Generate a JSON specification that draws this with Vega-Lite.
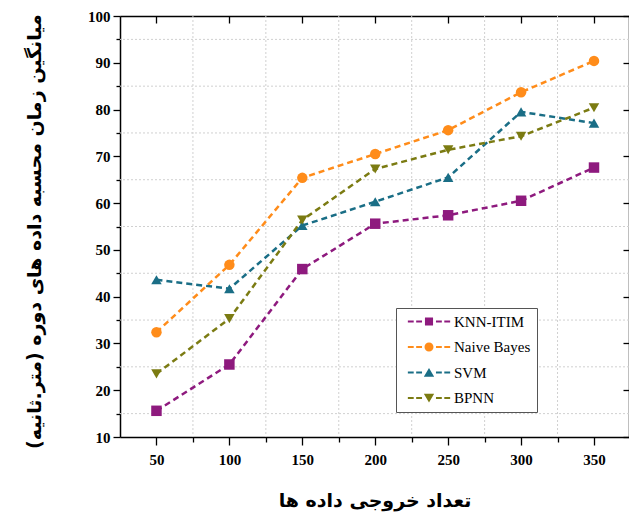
{
  "$schema": "https://vega.github.io/schema/vega-lite/v6.json",
  "width": 509,
  "height": 421,
  "autosize": "none",
  "padding": {"left": 120, "top": 16, "right": 0, "bottom": 82},
  "background": "white",
  "config": {"view": {"stroke": null}},
  "datasets": {
    "main": [
      {"x": 50, "y": 15.6, "series": "KNN-ITIM"},
      {"x": 100, "y": 25.5, "series": "KNN-ITIM"},
      {"x": 150, "y": 45.9, "series": "KNN-ITIM"},
      {"x": 200, "y": 55.6, "series": "KNN-ITIM"},
      {"x": 250, "y": 57.4, "series": "KNN-ITIM"},
      {"x": 300, "y": 60.5, "series": "KNN-ITIM"},
      {"x": 350, "y": 67.6, "series": "KNN-ITIM"},
      {"x": 50, "y": 32.4, "series": "Naive Bayes"},
      {"x": 100, "y": 46.8, "series": "Naive Bayes"},
      {"x": 150, "y": 65.4, "series": "Naive Bayes"},
      {"x": 200, "y": 70.5, "series": "Naive Bayes"},
      {"x": 250, "y": 75.6, "series": "Naive Bayes"},
      {"x": 300, "y": 83.7, "series": "Naive Bayes"},
      {"x": 350, "y": 90.4, "series": "Naive Bayes"},
      {"x": 50, "y": 43.6, "series": "SVM"},
      {"x": 100, "y": 41.7, "series": "SVM"},
      {"x": 150, "y": 55.2, "series": "SVM"},
      {"x": 200, "y": 60.3, "series": "SVM"},
      {"x": 250, "y": 65.5, "series": "SVM"},
      {"x": 300, "y": 79.5, "series": "SVM"},
      {"x": 350, "y": 77.1, "series": "SVM"},
      {"x": 50, "y": 23.5, "series": "BPNN"},
      {"x": 100, "y": 35.3, "series": "BPNN"},
      {"x": 150, "y": 56.4, "series": "BPNN"},
      {"x": 200, "y": 67.3, "series": "BPNN"},
      {"x": 250, "y": 71.4, "series": "BPNN"},
      {"x": 300, "y": 74.3, "series": "BPNN"},
      {"x": 350, "y": 80.4, "series": "BPNN"}
    ],
    "gridx": [{"gx": 75}, {"gx": 125}, {"gx": 175}, {"gx": 225}, {"gx": 275}, {"gx": 325}],
    "gridy": [{"gy": 15}, {"gy": 25}, {"gy": 35}, {"gy": 45}, {"gy": 55}, {"gy": 65}, {"gy": 75}, {"gy": 85}, {"gy": 95}]
  },
  "layer": [
    {
      "data": {"name": "gridx"},
      "mark": {"type": "rule", "color": "#d0d0d0", "strokeWidth": 1, "strokeDash": [2, 2]},
      "encoding": {
        "x": {"field": "gx", "type": "quantitative", "scale": {"domain": [25, 374], "nice": false, "zero": false}, "axis": null}
      }
    },
    {
      "data": {"name": "gridy"},
      "mark": {"type": "rule", "color": "#d0d0d0", "strokeWidth": 1, "strokeDash": [2, 2]},
      "encoding": {
        "y": {"field": "gy", "type": "quantitative", "scale": {"domain": [10, 100], "nice": false, "zero": false}, "axis": null}
      }
    },
    {
      "data": {"name": "main"},
      "mark": {"type": "line", "strokeWidth": 2.5, "strokeDash": [6, 4]},
      "encoding": {
        "x": {"field": "x", "type": "quantitative",
          "scale": {"domain": [25, 374], "nice": false, "zero": false},
          "axis": {
            "orient": "bottom",
            "values": [50, 75, 100, 125, 150, 175, 200, 225, 250, 275, 300, 325, 350],
            "labelExpr": "datum.value % 50 == 0 ? datum.label : ''",
            "labelFont": "Liberation Serif", "labelFontWeight": "bold", "labelFontSize": 15, "labelColor": "black",
            "labelPadding": 7,
            "tickColor": "black", "tickWidth": 1.3,
            "tickSize": {"condition": {"test": "datum.value % 50 == 0", "value": 8}, "value": 5},
            "domainColor": "black", "domainWidth": 1.5,
            "grid": false,
            "title": "تعداد خروجی داده ها",
            "titleFont": "DejaVu Sans", "titleFontWeight": "bold", "titleFontSize": 19, "titleColor": "black",
            "titleBaseline": "middle", "titleY": 63
          }
        },
        "y": {"field": "y", "type": "quantitative",
          "scale": {"domain": [10, 100], "nice": false, "zero": false},
          "axis": {
            "orient": "left",
            "values": [10, 15, 20, 25, 30, 35, 40, 45, 50, 55, 60, 65, 70, 75, 80, 85, 90, 95, 100],
            "labelExpr": "datum.value % 10 == 0 ? datum.label : ''",
            "labelFont": "Liberation Serif", "labelFontWeight": "bold", "labelFontSize": 15, "labelColor": "black",
            "labelPadding": 3,
            "tickColor": "black", "tickWidth": 1.3,
            "tickSize": {"condition": {"test": "datum.value % 10 == 0", "value": 7}, "value": 4},
            "domainColor": "black", "domainWidth": 1.5,
            "grid": false,
            "title": "میانگین زمان محسبه داده های دوره (متر.ثانیه)",
            "titleFont": "DejaVu Sans", "titleFontWeight": "bold", "titleFontSize": 19, "titleColor": "black",
            "titleAngle": -90, "titleAlign": "center", "titleBaseline": "middle",
            "titleX": -86, "titleY": 215
          }
        },
        "color": {"field": "series", "type": "nominal",
          "scale": {"domain": ["KNN-ITIM", "Naive Bayes", "SVM", "BPNN"], "range": ["#8E1A7E", "#FF8C1A", "#1A6E86", "#7B7B12"]},
          "legend": {
            "title": null, "orient": "none", "legendX": 276, "legendY": 292,
            "strokeColor": "#555555", "fillColor": "white", "padding": 6,
            "labelFont": "Liberation Serif", "labelFontSize": 15, "labelColor": "black",
            "symbolSize": 81, "symbolStrokeWidth": 0, "symbolOffset": 19.5, "labelOffset": 17.5,
            "rowPadding": 9.5, "symbolOpacity": 1,
            "encode": {"symbols": {"update": {
              "fill": {"signal": "scale('color', datum.value)"},
              "stroke": {"value": "transparent"},
              "strokeWidth": {"value": 0},
              "strokeDash": {"value": []},
              "opacity": {"value": 1},
              "shape": {"signal": "(datum.value == 'KNN-ITIM' ? 'M-0.9,-0.9h1.8v1.8h-1.8z' : datum.value == 'Naive Bayes' ? 'M-1,0a1,1 0 1,0 2,0a1,1 0 1,0 -2,0z' : datum.value == 'SVM' ? 'M0,-1L1.15,0.95L-1.15,0.95z' : 'M0,1L1.15,-0.95L-1.15,-0.95z') + 'M-4.7,-0.24h1.3v0.48h-1.3zM-2.85,-0.24h1.3v0.48h-1.3zM1.55,-0.24h1.3v0.48h-1.3zM3.4,-0.24h1.3v0.48h-1.3z'"}
            }}}
          }
        },
        "detail": {"field": "series"}
      }
    },
    {
      "data": {"name": "main"},
      "transform": [{"filter": "datum.series == 'KNN-ITIM'"}],
      "mark": {"type": "point", "filled": true, "opacity": 1, "size": 110, "shape": "square", "color": "#8E1A7E"},
      "encoding": {
        "x": {"field": "x", "type": "quantitative",
          "scale": {"domain": [25, 374], "nice": false, "zero": false},
          "axis": {"orient": "top", "values": [50, 100, 150, 200, 250, 300, 350], "labels": false, "title": null,
            "tickColor": "black", "tickWidth": 1.3, "tickSize": -7, "domainColor": "black", "domainWidth": 1.5, "grid": false}
        },
        "y": {"field": "y", "type": "quantitative",
          "scale": {"domain": [10, 100], "nice": false, "zero": false},
          "axis": {"orient": "right", "values": [10, 20, 30, 40, 50, 60, 70, 80, 90, 100], "labels": false, "title": null,
            "tickColor": "black", "tickWidth": 1.3, "tickSize": -6, "domainColor": "black", "domainWidth": 1.5, "grid": false}
        }
      }
    },
    {
      "data": {"name": "main"},
      "transform": [{"filter": "datum.series == 'Naive Bayes'"}],
      "mark": {"type": "point", "filled": true, "opacity": 1, "size": 110, "shape": "circle", "color": "#FF8C1A"},
      "encoding": {
        "x": {"field": "x", "type": "quantitative", "scale": {"domain": [25, 374], "nice": false, "zero": false}, "axis": null},
        "y": {"field": "y", "type": "quantitative", "scale": {"domain": [10, 100], "nice": false, "zero": false}, "axis": null}
      }
    },
    {
      "data": {"name": "main"},
      "transform": [{"filter": "datum.series == 'SVM'"}],
      "mark": {"type": "point", "filled": true, "opacity": 1, "size": 110, "shape": "triangle-up", "color": "#1A6E86"},
      "encoding": {
        "x": {"field": "x", "type": "quantitative", "scale": {"domain": [25, 374], "nice": false, "zero": false}, "axis": null},
        "y": {"field": "y", "type": "quantitative", "scale": {"domain": [10, 100], "nice": false, "zero": false}, "axis": null}
      }
    },
    {
      "data": {"name": "main"},
      "transform": [{"filter": "datum.series == 'BPNN'"}],
      "mark": {"type": "point", "filled": true, "opacity": 1, "size": 110, "shape": "triangle-down", "color": "#7B7B12"},
      "encoding": {
        "x": {"field": "x", "type": "quantitative", "scale": {"domain": [25, 374], "nice": false, "zero": false}, "axis": null},
        "y": {"field": "y", "type": "quantitative", "scale": {"domain": [10, 100], "nice": false, "zero": false}, "axis": null}
      }
    }
  ],
  "resolve": {"axis": {"x": "independent", "y": "independent"}}
}
